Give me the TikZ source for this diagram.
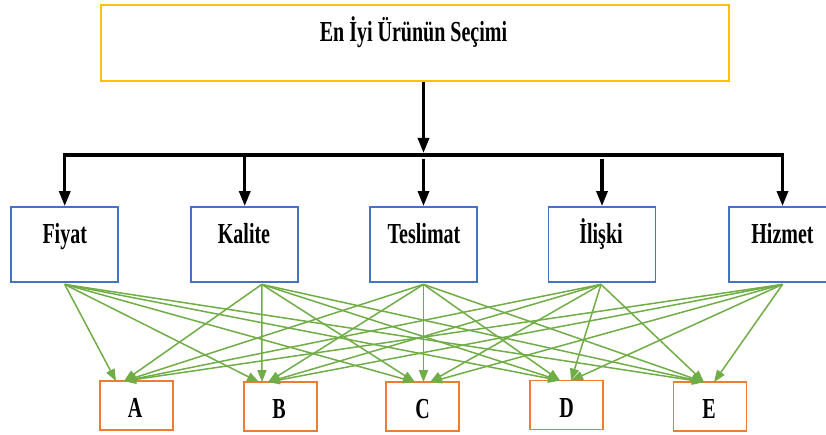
\documentclass[tikz,border=0pt]{standalone}
\usepackage{fontspec}
\setmainfont{Liberation Serif}
\newfontfamily\condserif[FakeStretch=0.69]{Liberation Serif}
\usetikzlibrary{arrows.meta}
\definecolor{goalgold}{HTML}{FFC000}
\definecolor{critblue}{HTML}{4472C4}
\definecolor{altorange}{HTML}{ED7D31}
\definecolor{linkgreen}{HTML}{70AD47}
\tikzset{
  lbl/.style={font=\condserif\bfseries\fontsize{29}{30}\selectfont, inner sep=0pt, anchor=base},
  goalbox/.style={draw=goalgold, line width=2pt, fill=white, inner sep=0pt,
    minimum width=628.5pt, minimum height=76pt},
  critbox/.style={draw=critblue, line width=1.8pt, fill=white, inner sep=0pt,
    minimum width=107pt, minimum height=75pt},
  altbox/.style={draw=altorange, line width=1.8pt, fill=white, inner sep=0pt,
    minimum width=73pt, minimum height=49pt},
  trunk/.style={line width=3.8pt, black},
  branch/.style={line width=3.2pt, black, -{Triangle[length=15pt,width=11pt]}},
  link/.style={linkgreen, line width=1.5pt, -{Triangle[length=12pt,width=9pt]}}
}
\begin{document}
\begin{tikzpicture}[x=1pt,y=-1pt]
\useasboundingbox (0,0) rectangle (826,435);

% goal
\node[goalbox] (goal) at (414.75,43) {};
\node[lbl] (goal-t) at (413.5,42) {En İyi Ürünün Seçimi};

% criteria
\node[critbox] (fiyat) at (64.75,244.5) {};
\node[critbox] (kalite) at (244.75,244.5) {};
\node[critbox] (teslimat) at (423.5,244.5) {};
\node[critbox] (iliski) at (602,244.5) {};
\node[critbox] (hizmet) at (782.5,244.5) {};
\node[lbl] (fiyat-t) at (64.75,244) {Fiyat};
\node[lbl] (kalite-t) at (244,244) {Kalite};
\node[lbl] (teslimat-t) at (424,244) {Teslimat};
\node[lbl] (iliski-t) at (601,244) {İlişki};
\node[lbl] (hizmet-t) at (782.5,244) {Hizmet};

% alternatives
\node[altbox] (A) at (136.5,405.5) {};
\node[altbox] (B) at (280.5,406.5) {};
\node[altbox] (C) at (422.5,406.5) {};
\node[altbox] (D) at (566.5,405) {};
\node[altbox] (E) at (710,406.5) {};
\node[lbl] (A-t) at (135,417) {A};
\node[lbl] (B-t) at (279,418) {B};
\node[lbl] (C-t) at (422.7,418) {C};
\node[lbl] (D-t) at (566.7,417) {D};
\node[lbl] (E-t) at (709,418) {E};

% goal to the distribution bar (shifts are in page points: negative is downward)
\coordinate (join) at (423.5,155);
\coordinate (barL) at (64.75,155);
\coordinate (barR) at (782.5,155);
\draw[branch] (goal.south -| join) -- ([yshift=2pt]join);
\draw[trunk] ([xshift=-1.6pt]barL) -- ([xshift=1.6pt]barR);

% bar to the criteria
\draw[branch] ([yshift=1.9pt]barL) -- (fiyat.north);
\draw[branch] (barL -| kalite.north) -- (kalite.north);
\draw[branch] ([yshift=-4pt]join) -- (teslimat.north);
\draw[branch] ([yshift=-4pt]barL -| iliski.north) -- (iliski.north);
\draw[branch] ([yshift=1.9pt]barR) -- (hizmet.north);

% every criterion to every alternative
\coordinate (sF) at ([yshift=-1.5pt]fiyat.south);
\coordinate (sK) at ([xshift=17pt,yshift=-1.5pt]kalite.south);
\coordinate (sT) at ([yshift=-1.5pt]teslimat.south);
\coordinate (sI) at ([xshift=-1pt,yshift=-1.5pt]iliski.south);
\coordinate (sH) at ([yshift=-1.5pt]hizmet.south);

\draw[link] (sF) -- ([xshift=-20.5pt,yshift=-1pt]A.north);
\draw[link] (sK) -- ([xshift=-12.5pt,yshift=-1pt]A.north);
\draw[link] (sT) -- ([xshift=-12.5pt,yshift=-1pt]A.north);
\draw[link] (sI) -- ([xshift=-12.5pt,yshift=-1pt]A.north);
\draw[link] (sH) -- ([xshift=-12.5pt,yshift=-1pt]A.north);

\draw[link] (sF) -- ([xshift=-21.5pt,yshift=-1pt]B.north);
\draw[link] (sK) -- ([xshift=-18.5pt,yshift=-1pt]B.north);
\draw[link] (sT) -- ([xshift=-12.5pt,yshift=-1pt]B.north);
\draw[link] (sI) -- ([xshift=-12.5pt,yshift=-1pt]B.north);
\draw[link] (sH) -- ([xshift=-12.5pt,yshift=-1pt]B.north);

\draw[link] (sF) -- ([xshift=-7.5pt,yshift=-1pt]C.north);
\draw[link] (sK) -- ([xshift=-7.5pt,yshift=-1pt]C.north);
\draw[link] (sT) -- ([xshift=1pt,yshift=-1pt]C.north);
\draw[link] (sI) -- ([xshift=7.5pt,yshift=-1pt]C.north);
\draw[link] (sH) -- ([xshift=7.5pt,yshift=-1pt]C.north);

\draw[link] (sF) -- ([xshift=-6.5pt,yshift=-1pt]D.north);
\draw[link] (sK) -- ([xshift=-6.5pt,yshift=-1pt]D.north);
\draw[link] (sT) -- ([xshift=-6.5pt,yshift=-1pt]D.north);
\draw[link] (sI) -- ([xshift=4.5pt,yshift=-1pt]D.north);
\draw[link] (sH) -- ([xshift=4.5pt,yshift=-1pt]D.north);

\draw[link] (sF) -- ([xshift=-6pt,yshift=-1pt]E.north);
\draw[link] (sK) -- ([xshift=-6pt,yshift=-1pt]E.north);
\draw[link] (sT) -- ([xshift=-6pt,yshift=-1pt]E.north);
\draw[link] (sI) -- ([xshift=-6pt,yshift=-1pt]E.north);
\draw[link] (sH) -- ([xshift=4pt,yshift=-1pt]E.north);
\end{tikzpicture}
\end{document}
